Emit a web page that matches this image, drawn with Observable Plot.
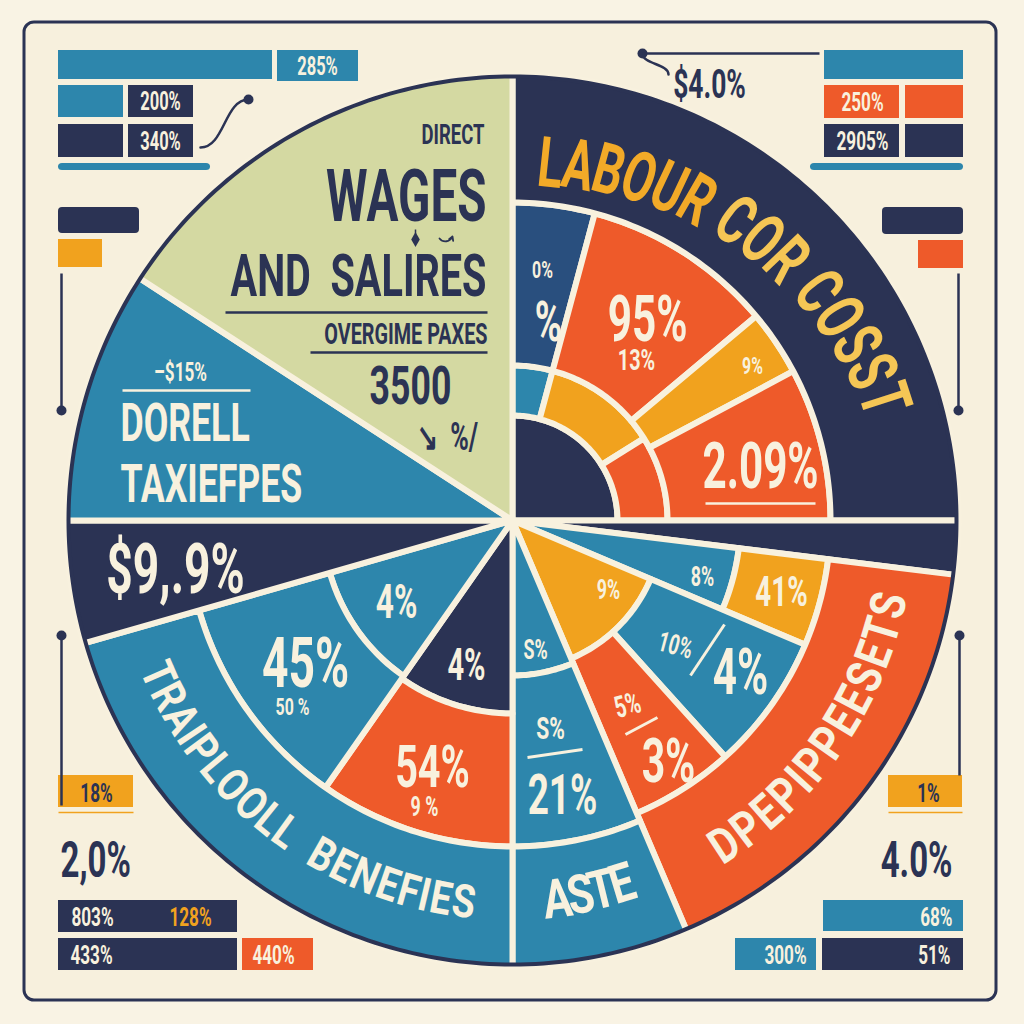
<!DOCTYPE html>
<html>
<head>
<meta charset="utf-8">
<script src="https://cdn.jsdelivr.net/npm/d3@7"></script>
<script src="https://cdn.jsdelivr.net/npm/@observablehq/plot@0.6"></script>
<style>
  html, body { margin: 0; padding: 0; background: #f9f3e4; }
  #chart { width: 1024px; height: 1024px; }
</style>
</head>
<body>
<div id="chart"></div>
<script>
// ======================= DATA =======================
// Main sectors of the wheel, clockwise from 12 o'clock (degrees of the circle)
const sectorNames   = ["Labour cost", "Labour cost edge", "Depreciation", "Aste", "Payroll benefits", "Payroll tax", "Dorell taxes", "Direct wages and salaries"];
const sectorDegrees = [90, 7, 60, 23, 74, 16, 33, 57];

// Sub-splits inside sectors (degrees)
const labourInnerDegrees  = [15, 43, 32];
const labourMiddleDegrees = [15, 35, 12, 28];
const deprDegrees         = [16, 25, 19];
const benefitDegrees      = [35, 39];

// Curved sector titles
const labourTitle   = "LABOUR COR COSST";
const benefitsTitle = "TRAIPLOOLL  BENEFIES";
const deprTitle     = "DPEPIPPEESETS";
const asteTitle     = "ASTE";

// Value labels inside the wheel
const wheelLabels = ["0%", "%", "95%", "13%", "9%", "2.09%", "8%", "41%", "9%", "10%", "4%", "5%", "3%", "S%", "S%", "21%", "4%", "45%", "50 %", "4%", "54%", "9 %", "$9,.9%", "–$15%"];
// Text blocks in the wedges
const wagesLines  = ["DIRECT", "WAGES", "AND  SALIRES", "OVERGIME PAXES"];
const wagesValue  = ["3500", "↘  %/"];
const dorellLines = ["DORELL", "TAXIEFPES"];
// Corner legend labels
const cornerLabels = ["285%", "200%", "340%", "$4.0%", "250%", "2905%", "18%", "2,0%", "803%", "128%", "433%", "440%", "1%", "4.0%", "68%", "300%", "51%"];

// ======================= STYLE / LAYOUT =======================
const C = {navy: "#2b3354", teal: "#2d86ac", orange: "#ee5a2a", yellow: "#f1a21e", green: "#d4d9a2",
           dblue: "#294f7e", cream: "#f8f1de", bg: "#f7f0dd", gold: "#f2aa28", goldLight: "#f5c655"};
const FONT = "Roboto,'Liberation Sans',sans-serif";
const W = 1024, H = 1024, CX = 512, CY = 520;
const R = {core: 105, inner: 155, mid: 318, outer: 446, deprSplit: 228, deprInner: 150, benInner: 193, band: 326};

const px = (a, r) => CX + r * Math.sin(a * Math.PI / 180);
const py = (a, r) => CY - r * Math.cos(a * Math.PI / 180);

// ---- wheel cells from the data ----
const cells = [];
const cell = (a0, a1, r0, r1, color) => cells.push({id: cells.length, a0, a1, r0, r1, color});
const s = [0, ...d3.cumsum(sectorDegrees)];
// Labour cost
cell(s[0], s[1], 0, R.core, C.navy);
{ let acc = s[0]; const cols = [C.teal, C.yellow, C.orange];
  labourInnerDegrees.forEach((d, i) => { cell(acc, acc + d, R.core, R.inner, cols[i]); acc += d; }); }
{ let acc = s[0]; const cols = [C.dblue, C.orange, C.yellow, C.orange];
  labourMiddleDegrees.forEach((d, i) => { cell(acc, acc + d, R.inner, R.mid, cols[i]); acc += d; }); }
cell(s[0], s[1], R.mid, R.outer, C.navy);
cell(s[1], s[2], 0, R.outer, C.navy);
// Depreciation
{ const d = [s[2], ...d3.cumsum(deprDegrees).map(v => v + s[2])];
  cell(d[0], d[1], 0, R.deprSplit, C.teal);
  cell(d[0], d[1], R.deprSplit, R.mid, C.yellow);
  cell(d[1], d[3], 0, R.deprInner, C.yellow);
  cell(d[1], d[2], R.deprInner, R.mid, C.teal);
  cell(d[2], d[3], R.deprInner, R.mid, C.orange);
  cell(s[2], s[3], R.mid, R.outer, C.orange); }
// Aste
cell(s[3], s[4], 0, R.inner, C.teal);
cell(s[3], s[4], R.inner, R.band, C.teal);
cell(s[3], s[4], R.band, R.outer, C.teal);
// Payroll benefits
{ const b = [s[4], s[4] + benefitDegrees[0], s[4] + benefitDegrees[0] + benefitDegrees[1]];
  cell(b[0], b[1], 0, R.benInner, C.navy);
  cell(b[0], b[1], R.benInner, R.band, C.orange);
  cell(b[1], b[2], 0, R.benInner - 3, C.teal);
  cell(b[1], b[2], R.benInner - 3, R.band, C.teal);
  cell(s[4], s[5], R.band, R.outer, C.teal); }
// Full wedges
cell(s[5], s[6], 0, R.outer, C.navy);
cell(s[6], s[7], 0, R.outer, C.teal);
cell(s[7], s[8], 0, R.outer, C.green);

const cellPts = cells.flatMap(c => {
  const n = Math.max(2, Math.ceil((c.a1 - c.a0) / 1));
  const pts = [];
  for (let i = 0; i <= n; i++) { const a = c.a0 + (c.a1 - c.a0) * i / n; pts.push({id: c.id, color: c.color, x: px(a, c.r1), y: py(a, c.r1)}); }
  if (c.r0 > 0) for (let i = n; i >= 0; i--) { const a = c.a0 + (c.a1 - c.a0) * i / n; pts.push({id: c.id, color: c.color, x: px(a, c.r0), y: py(a, c.r0)}); }
  else pts.push({id: c.id, color: c.color, x: CX, y: CY});
  return pts;
});
const rimPts = d3.range(0, 361, 1).map(a => ({x: px(a, R.outer - 2), y: py(a, R.outer - 2)}));

// ---- curved titles: proportional letter spacing fitted between two angles ----
const measure = document.createElement("canvas").getContext("2d");
function arcText(str, a0, a1, r0, r1, size, sx) {
  const chars = Array.from(str), n = chars.length;
  measure.font = `bold ${size}px Roboto`;
  const w = chars.map(ch => measure.measureText(ch).width * sx);
  const centers = []; let acc = 0;
  w.forEach((wi, i) => { centers.push(acc + wi / 2 - w[0] / 2); acc += wi; });
  const rm = (r0 + r1) / 2;
  const target = Math.abs(a1 - a0) * Math.PI / 180 * rm;
  const track = n > 1 ? (target - centers[n - 1]) / (n - 1) : 0;
  const dir = a1 >= a0 ? 1 : -1;
  return chars.map((ch, i) => {
    const a = a0 + dir * (centers[i] + i * track) / rm * 180 / Math.PI;
    const r = r0 + (r1 - r0) * i / Math.max(1, n - 1);
    return {i, ch, x: px(a, r), y: py(a, r), rotate: dir > 0 ? a : a - 180};
  });
}
const TS = {labour: [70, 0.66], benefits: [46, 0.82], depr: [49, 0.82], aste: [54, 0.8]};
const labourChars = arcText(labourTitle, 6.1, 72, 358, 390, ...TS.labour).map(d => ({...d, color: d.i < 6 ? C.gold : C.goldLight}));
const benefitChars = arcText(benefitsTitle, 246.5, 187.3, 387, 385, ...TS.benefits);
const deprChars = arcText(deprTitle, 146.8, 102.7, 388, 386, ...TS.depr);
const asteChars = arcText(asteTitle, 173.2, 163.2, 382, 380, ...TS.aste);

// ---- label placement (x, y, size, rotate) ----
const wheelPos = [[542,270,24,0],[548,323,56,0],[647,320,64,0],[636,360,30,0],[752,366,24,0],[760,467,64,0],
  [702,577,27,0],[781,592,42,0],[608,590,27,0],[675,645,28,15],[740,673,64,0],[627,705,30,-15],[668,762,62,0],
  [535,650,27,0],[550,728,32,0],[562,796,56,0],[396,602,48,0],[305,664,70,0],[292,707,24,0],[466,665,44,0],
  [432,767,60,0],[424,807,27,0],[175,570,70,0],[180,372,26,0]];
const wheelText = wheelLabels.map((t, i) => ({t, x: wheelPos[i][0], y: wheelPos[i][1], size: wheelPos[i][2], rot: wheelPos[i][3]}));

const wagesPos = [[484,135,28],[486,197,72],[486,276,60],[487,334,30]];
const wagesText = wagesLines.map((t, i) => ({t, x: wagesPos[i][0], y: wagesPos[i][1], size: wagesPos[i][2]}));
const wagesValPos = [[410,386,54],[447,437,38]];
const wagesValText = wagesValue.map((t, i) => ({t, x: wagesValPos[i][0], y: wagesValPos[i][1], size: wagesValPos[i][2]}));
const dorellPos = [[120,423,54],[120,484,54]];
const dorellText = dorellLines.map((t, i) => ({t, x: dorellPos[i][0], y: dorellPos[i][1], size: dorellPos[i][2]}));

// corner legend: [x, y, size, color, anchor]
const cornerPos = [[317,66,25,C.cream,"middle"],[160,101,25,C.cream,"middle"],[160,141,25,C.cream,"middle"],
  [709,85,40,C.navy,"middle"],[862,102,26,C.cream,"middle"],[862,141,26,C.cream,"middle"],
  [96,793,26,C.navy,"middle"],[60,860,50,C.navy,"start"],[92,917,26,C.cream,"middle"],[190,917,26,C.yellow,"middle"],
  [91,955,26,C.cream,"middle"],[273,955,26,C.cream,"middle"],[928,793,26,C.navy,"middle"],[952,860,50,C.navy,"end"],
  [952,917,26,C.cream,"end"],[785,955,26,C.cream,"middle"],[950,955,26,C.cream,"end"]];
const cornerText = cornerLabels.map((t, i) => ({t, x: cornerPos[i][0], y: cornerPos[i][1], size: cornerPos[i][2], color: cornerPos[i][3], anchor: cornerPos[i][4]}));

const frame = [{x1: 24, y1: 22, x2: 996, y2: 1000}];
const boxes = [
  [58,50,272,79,C.teal],[277,50,358,81,C.teal],[58,85,123,117,C.teal],[128,85,193,117,C.navy],
  [58,124,123,157,C.navy],[128,124,193,157,C.navy],[58,239,102,267,C.yellow],
  [824,50,963,79,C.teal],[824,85,899,118,C.orange],[905,85,963,118,C.orange],[824,124,899,157,C.navy],
  [905,124,963,157,C.navy],[918,240,963,268,C.orange],
  [58,775,133,807,C.yellow],[58,900,237,932,C.navy],[58,938,237,970,C.navy],[242,938,313,970,C.orange],
  [888,775,962,807,C.yellow],[823,900,963,931,C.teal],[735,938,816,970,C.teal],[822,938,963,970,C.navy]
].map(([x1,y1,x2,y2,color]) => ({x1,y1,x2,y2,color}));
const roundBoxes = [[58,163,210,170,C.teal],[58,207,139,233,C.navy],[810,163,963,170,C.teal],[882,207,963,234,C.navy]]
  .map(([x1,y1,x2,y2,color]) => ({x1,y1,x2,y2,color}));

const rules = [
  [225,312,487,312,C.navy,2.5],[310,352,487,352,C.navy,2.5],[122,390,250,390,C.cream,2.5],[705,503,815,503,C.cream,2.5],
  [690,675,724,624,C.cream,3],[625,734,657,717,C.cream,3],[527,757,582,749,C.cream,3],
  [642,53,819,53,C.navy,2.5],[61,273,61,410,C.navy,2.5],[958,273,958,410,C.navy,2.5],
  [61,635,61,805,C.navy,2.5],[959,635,959,775,C.navy,2.5],
  [58,812,133,812,C.yellow,1.5],[888,812,962,812,C.yellow,1.5],
  [415,229,415,234,C.navy,1.5]
].map(([x1,y1,x2,y2,color,w]) => ({x1,y1,x2,y2,color,w}));
const connectors = [
  {g: 0, x: 200, y: 147}, {g: 0, x: 248, y: 99},
  {g: 1, x: 642, y: 53}, {g: 1, x: 668, y: 74}
];
const dots = [[248,99],[642,53],[61,410],[958,410],[61,635],[959,635]].map(([x,y]) => ({x,y}));

const textOpts = (extra) => Object.assign({x: "x", y: "y", fontFamily: FONT, fontWeight: "bold"}, extra);

const plot = Plot.plot({
  width: W, height: H, margin: 0,
  x: {domain: [0, W], range: [0, W], axis: null},
  y: {domain: [0, H], range: [0, H], axis: null},
  color: {type: "identity"},
  style: {background: "transparent", overflow: "visible"},
  marks: [
    Plot.rect(frame, {x1: "x1", x2: "x2", y1: "y1", y2: "y2", fill: C.bg, stroke: C.navy, strokeWidth: 3, rx: 10}),
    Plot.rect(boxes, {x1: "x1", x2: "x2", y1: "y1", y2: "y2", fill: "color"}),
    Plot.rect(roundBoxes, {x1: "x1", x2: "x2", y1: "y1", y2: "y2", fill: "color", rx: 4}),
    Plot.line(connectors.filter(d => d.g === 0), {x: "x", y: "y", curve: "bump-x", stroke: C.navy, strokeWidth: 2.5}),
    Plot.line(connectors.filter(d => d.g === 1), {x: "x", y: "y", curve: "bump-y", stroke: C.navy, strokeWidth: 2.5}),
    Plot.dot(dots, {x: "x", y: "y", r: 5, fill: C.navy}),
    // wheel
    Plot.line(cellPts, {x: "x", y: "y", z: "id", fill: "color", stroke: C.cream, strokeWidth: 6, strokeLinejoin: "round", curve: "linear-closed"}),
    Plot.line(rimPts, {x: "x", y: "y", stroke: C.navy, strokeWidth: 4, curve: "linear-closed"}),
    Plot.link(rules, {x1: "x1", y1: "y1", x2: "x2", y2: "y2", stroke: "color", strokeWidth: "w"}),
    // little ornaments between WAGES and AND SALIRES
    Plot.dot([{x: 415, y: 239}], {x: "x", y: "y", symbol: "diamond", r: 4.5, fill: C.navy}),
    Plot.arrow([{x1: 439, y1: 238, x2: 452, y2: 236}], {x1: "x1", y1: "y1", x2: "x2", y2: "y2", bend: -60, headLength: 6, stroke: C.navy, strokeWidth: 1.8}),
    // curved titles
    Plot.text(labourChars, textOpts({text: "ch", rotate: "rotate", fontSize: TS.labour[0], fill: "color"})),
    Plot.text(benefitChars, textOpts({text: "ch", rotate: "rotate", fontSize: TS.benefits[0], fill: C.cream})),
    Plot.text(deprChars, textOpts({text: "ch", rotate: "rotate", fontSize: TS.depr[0], fill: C.cream})),
    Plot.text(asteChars, textOpts({text: "ch", rotate: "rotate", fontSize: TS.aste[0], fill: C.cream})),
    // wheel labels
    Plot.text(wheelText, textOpts({text: "t", fontSize: "size", rotate: "rot", fill: C.cream})),
    Plot.text(wagesText, textOpts({text: "t", fontSize: "size", fill: C.navy, textAnchor: "end"})),
    Plot.text(wagesValText, textOpts({text: "t", fontSize: "size", fill: C.navy})),
    Plot.text(dorellText, textOpts({text: "t", fontSize: "size", fill: C.cream, textAnchor: "start"})),
    // corner legends
    Plot.text(cornerText.filter(d => d.anchor === "middle"), textOpts({text: "t", fontSize: "size", fill: "color"})),
    Plot.text(cornerText.filter(d => d.anchor === "start"), textOpts({text: "t", fontSize: "size", fill: "color", textAnchor: "start"})),
    Plot.text(cornerText.filter(d => d.anchor === "end"), textOpts({text: "t", fontSize: "size", fill: "color", textAnchor: "end"}))
  ]
});

// condense the lettering horizontally (the poster uses a narrow display face);
// curved titles carry a constant font-size on their group, which selects their own factor
const sxBySize = {};
Object.values(TS).forEach(([size, sx]) => { sxBySize[size] = sx; });
function condense(node, sx) {
  const t = node.getAttribute("transform");
  if (t) node.setAttribute("transform", `${t} scale(${sx},1)`);
  else {
    const x = +node.getAttribute("x") || 0, y = +node.getAttribute("y") || 0;
    node.removeAttribute("x"); node.removeAttribute("y");
    node.setAttribute("transform", `translate(${x},${y}) scale(${sx},1)`);
  }
}
plot.querySelectorAll("text").forEach(n => {
  let sx = 0.66;
  const g = n.parentNode;
  const fs = g && g.getAttribute && parseFloat(g.getAttribute("font-size"));
  if (!n.getAttribute("font-size") && sxBySize[fs] != null) sx = sxBySize[fs];
  condense(n, sx);
});
document.getElementById("chart").appendChild(plot);
</script>
</body>
</html>
